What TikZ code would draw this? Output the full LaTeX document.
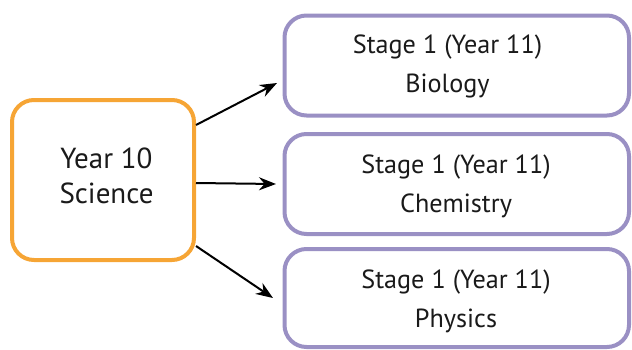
\documentclass[tikz,border=0pt]{standalone}
\usepackage{fontspec}
\setmainfont{PT Sans}
\usetikzlibrary{arrows.meta}
\definecolor{orangeb}{HTML}{F6A535}
\definecolor{purpleb}{HTML}{9A90C4}
\definecolor{ink}{HTML}{1A1A1A}
\begin{document}
\begin{tikzpicture}[x=1pt,y=-1pt,
  srcbox/.style={draw=orangeb,line width=4pt,rounded corners=22pt,fill=white,
    minimum width=182pt,minimum height=160pt},
  srctext/.style={align=center,anchor=base,text=ink,inner sep=0pt,font=\fontsize{29}{35}\selectfont},
  dstbox/.style={draw=purpleb,line width=4pt,rounded corners=22pt,fill=white,
    minimum width=344.5pt,minimum height=100pt},
  dsttext/.style={align=center,anchor=base,text=ink,inner sep=0pt,font=\fontsize{26.2}{39}\selectfont},
  conn/.style={draw=black,line width=2pt,-{Stealth[length=17pt,width=13pt]}}]
\useasboundingbox (0,0) rectangle (632,349);
\node[srcbox] (src) at (103,180) {};
\node[srctext] (srclabel) at (106.5,203) {Year 10\\Science};
\node[dstbox] (bio) at (456.75,65.5) {};
\node[dstbox,minimum height=100pt] (chem) at (456.75,184) {};
\node[dstbox,minimum height=98pt] (phys) at (456.75,298) {};
\node[dsttext] (biotext) at (447.5,92) {Stage 1 (Year 11)\\Biology};
\node[dsttext] (chemtext) at (456,212) {Stage 1 (Year 11)\\Chemistry};
\node[dsttext] (phystext) at (456,327) {Stage 1 (Year 11)\\Physics};
\coordinate (t1) at (277,83);
\coordinate (t2) at (276,184);
\coordinate (t3) at (273,298);
\draw[conn] (src.east |- 0,125) -- (t1);
\draw[conn] (src.east |- 0,183) -- (t2);
\draw[conn] (src.east |- 0,246) -- (t3);
\end{tikzpicture}
\end{document}
